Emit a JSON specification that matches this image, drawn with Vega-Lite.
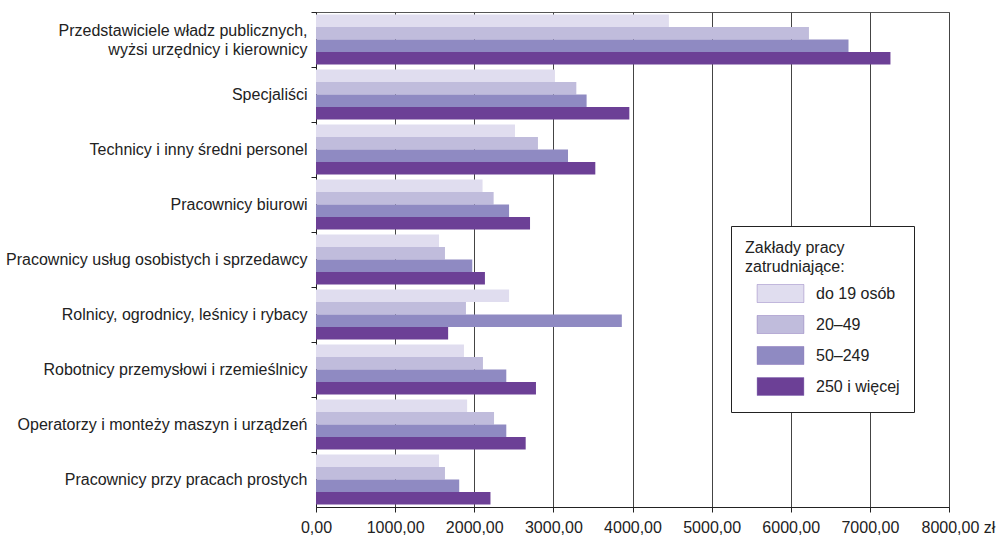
{
  "$schema": "https://vega.github.io/schema/vega-lite/v6.json",
  "width": 633,
  "height": 495,
  "autosize": {"type": "none"},
  "padding": {"left": 316, "top": 12, "right": 48, "bottom": 36},
  "background": "white",
  "config": {
    "font": "Liberation Sans",
    "view": {"stroke": "#555", "strokeWidth": 1},
    "axis": {"labelFont": "Liberation Sans", "labelColor": "#222", "labelFontSize": 16, "domainColor": "#222", "tickColor": "#222"}
  },
  "data": {
    "values": [
      {"zawod": "Przedstawiciele władz publicznych, wyżsi urzędnicy i kierownicy", "grupa": "do 19 osób", "wynagrodzenie": 4460},
      {"zawod": "Przedstawiciele władz publicznych, wyżsi urzędnicy i kierownicy", "grupa": "20–49", "wynagrodzenie": 6230},
      {"zawod": "Przedstawiciele władz publicznych, wyżsi urzędnicy i kierownicy", "grupa": "50–249", "wynagrodzenie": 6730},
      {"zawod": "Przedstawiciele władz publicznych, wyżsi urzędnicy i kierownicy", "grupa": "250 i więcej", "wynagrodzenie": 7260},
      {"zawod": "Specjaliści", "grupa": "do 19 osób", "wynagrodzenie": 3020},
      {"zawod": "Specjaliści", "grupa": "20–49", "wynagrodzenie": 3290},
      {"zawod": "Specjaliści", "grupa": "50–249", "wynagrodzenie": 3420},
      {"zawod": "Specjaliści", "grupa": "250 i więcej", "wynagrodzenie": 3960},
      {"zawod": "Technicy i inny średni personel", "grupa": "do 19 osób", "wynagrodzenie": 2515},
      {"zawod": "Technicy i inny średni personel", "grupa": "20–49", "wynagrodzenie": 2805},
      {"zawod": "Technicy i inny średni personel", "grupa": "50–249", "wynagrodzenie": 3185},
      {"zawod": "Technicy i inny średni personel", "grupa": "250 i więcej", "wynagrodzenie": 3530},
      {"zawod": "Pracownicy biurowi", "grupa": "do 19 osób", "wynagrodzenie": 2105},
      {"zawod": "Pracownicy biurowi", "grupa": "20–49", "wynagrodzenie": 2245},
      {"zawod": "Pracownicy biurowi", "grupa": "50–249", "wynagrodzenie": 2440},
      {"zawod": "Pracownicy biurowi", "grupa": "250 i więcej", "wynagrodzenie": 2705},
      {"zawod": "Pracownicy usług osobistych i sprzedawcy", "grupa": "do 19 osób", "wynagrodzenie": 1555},
      {"zawod": "Pracownicy usług osobistych i sprzedawcy", "grupa": "20–49", "wynagrodzenie": 1630},
      {"zawod": "Pracownicy usług osobistych i sprzedawcy", "grupa": "50–249", "wynagrodzenie": 1975},
      {"zawod": "Pracownicy usług osobistych i sprzedawcy", "grupa": "250 i więcej", "wynagrodzenie": 2135},
      {"zawod": "Rolnicy, ogrodnicy, leśnicy i rybacy", "grupa": "do 19 osób", "wynagrodzenie": 2440},
      {"zawod": "Rolnicy, ogrodnicy, leśnicy i rybacy", "grupa": "20–49", "wynagrodzenie": 1895},
      {"zawod": "Rolnicy, ogrodnicy, leśnicy i rybacy", "grupa": "50–249", "wynagrodzenie": 3865},
      {"zawod": "Rolnicy, ogrodnicy, leśnicy i rybacy", "grupa": "250 i więcej", "wynagrodzenie": 1670},
      {"zawod": "Robotnicy przemysłowi i rzemieślnicy", "grupa": "do 19 osób", "wynagrodzenie": 1870},
      {"zawod": "Robotnicy przemysłowi i rzemieślnicy", "grupa": "20–49", "wynagrodzenie": 2110},
      {"zawod": "Robotnicy przemysłowi i rzemieślnicy", "grupa": "50–249", "wynagrodzenie": 2405},
      {"zawod": "Robotnicy przemysłowi i rzemieślnicy", "grupa": "250 i więcej", "wynagrodzenie": 2780},
      {"zawod": "Operatorzy i monteży maszyn i urządzeń", "grupa": "do 19 osób", "wynagrodzenie": 1910},
      {"zawod": "Operatorzy i monteży maszyn i urządzeń", "grupa": "20–49", "wynagrodzenie": 2250},
      {"zawod": "Operatorzy i monteży maszyn i urządzeń", "grupa": "50–249", "wynagrodzenie": 2405},
      {"zawod": "Operatorzy i monteży maszyn i urządzeń", "grupa": "250 i więcej", "wynagrodzenie": 2650},
      {"zawod": "Pracownicy przy pracach prostych", "grupa": "do 19 osób", "wynagrodzenie": 1555},
      {"zawod": "Pracownicy przy pracach prostych", "grupa": "20–49", "wynagrodzenie": 1630},
      {"zawod": "Pracownicy przy pracach prostych", "grupa": "50–249", "wynagrodzenie": 1810},
      {"zawod": "Pracownicy przy pracach prostych", "grupa": "250 i więcej", "wynagrodzenie": 2205}
    ]
  },
  "mark": {"type": "bar"},
  "encoding": {
    "y": {
      "field": "zawod",
      "type": "nominal",
      "sort": null,
      "scale": {"paddingInner": 0, "paddingOuter": 0},
      "axis": {
        "title": null,
        "bandPosition": 0,
        "domain": true,
        "ticks": true,
        "tickSize": 5,
        "labelPadding": 4,
        "labelLimit": 320,
        "labelLineHeight": 19,
        "labelExpr": "datum.label == 'Przedstawiciele władz publicznych, wyżsi urzędnicy i kierownicy' ? ['Przedstawiciele władz publicznych,', 'wyżsi urzędnicy i kierownicy'] : datum.label",
        "labelOffset": {"condition": {"test": "datum.label == 'Przedstawiciele władz publicznych, wyżsi urzędnicy i kierownicy'", "value": -9}, "value": 0}
      }
    },
    "yOffset": {
      "field": "grupa",
      "type": "nominal",
      "sort": ["do 19 osób", "20–49", "50–249", "250 i więcej"],
      "scale": {"paddingInner": 0, "paddingOuter": 0.2}
    },
    "x": {
      "field": "wynagrodzenie",
      "type": "quantitative",
      "scale": {"domain": [0, 8000], "nice": false},
      "axis": {
        "title": null,
        "values": [0, 1000, 2000, 3000, 4000, 5000, 6000, 7000, 8000],
        "grid": true,
        "gridColor": "#444",
        "gridWidth": 1,
        "tickSize": 5,
        "labelPadding": 7,
        "labelFlush": false,
        "labelOverlap": false,
        "labelExpr": "datum.value == 8000 ? '8000,00 zł' : replace(format(datum.value, '.2f'), '.', ',')",
        "labelAlign": {"condition": {"test": "datum.value == 8000", "value": "left"}, "value": "center"},
        "labelOffset": {"condition": {"test": "datum.value == 8000", "value": -28}, "value": 0}
      }
    },
    "color": {
      "field": "grupa",
      "type": "nominal",
      "sort": ["do 19 osób", "20–49", "50–249", "250 i więcej"],
      "scale": {
        "domain": ["do 19 osób", "20–49", "50–249", "250 i więcej"],
        "range": ["#e0ddef", "#c0bcdc", "#8f8ac2", "#6c4096"]
      },
      "legend": {
        "title": ["Zakłady pracy", "zatrudniające:"],
        "orient": "none",
        "legendX": 415,
        "legendY": 214,
        "strokeColor": "#222",
        "fillColor": "white",
        "padding": 14,
        "titleFont": "Liberation Sans",
        "titleFontSize": 16,
        "titleFontWeight": "normal",
        "titleColor": "#222",
        "titleLineHeight": 19,
        "titlePadding": 9,
        "labelFont": "Liberation Sans",
        "labelFontSize": 16,
        "labelColor": "#222",
        "symbolType": "M-2.6,-1H2.6V1H-2.6Z",
        "symbolSize": 324,
        "symbolStrokeWidth": 1,
        "symbolStrokeColor": "rgba(110,80,170,0.35)",
        "symbolOpacity": 1,
        "symbolOffset": 26,
        "labelOffset": 26,
        "rowPadding": 8
      }
    }
  }
}
